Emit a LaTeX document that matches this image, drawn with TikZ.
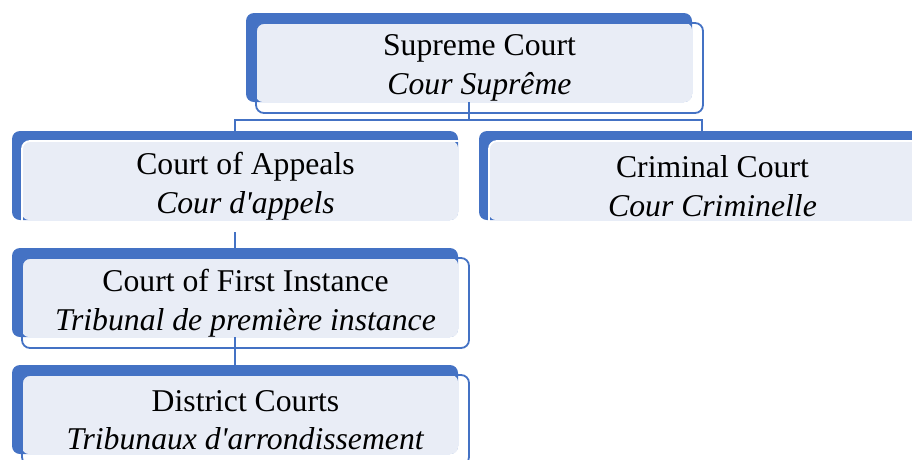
\documentclass[tikz,border=0pt]{standalone}
\usepackage{fontspec}
\setmainfont{Liberation Serif}
\usetikzlibrary{positioning}
\definecolor{courtblue}{HTML}{4472C4}
\definecolor{courtfill}{HTML}{E9EDF6}

\begin{document}
\begin{tikzpicture}[x=1pt, y=-1pt,
    back/.style={rectangle, fill=courtblue, rounded corners=8pt, inner sep=0pt, outer sep=0pt, minimum width=446pt, minimum height=89pt, anchor=north west},
    front/.style={rectangle, rounded corners=8pt, line width=1.8pt, inner sep=0pt, outer sep=0pt, minimum width=447pt, minimum height=90pt, align=center, font=\fontsize{31.7}{38.5}\selectfont},
    link/.style={draw=courtblue, line width=1.6pt}
    ]
    \useasboundingbox (0,0) rectangle (912,459);
    \clip (0,0) rectangle (912,459);
    
    \def\courts{supreme/246/13/courtblue/Supreme Court/Cour Suprême,%
        appeals/12/131/white/Court of Appeals/Cour d\textquotesingle appels,%
        criminal/479/131/white/Criminal Court/Cour Criminelle,%
        first/12/248/courtblue/Court of First Instance/Tribunal de première instance,%
        district/12/365/courtblue/District Courts/Tribunaux d\textquotesingle arrondissement}
    
    % one plate per court: blue back, pale face, framed front with the two names
    \foreach \court/\px/\py/\rim/\eng/\fre in \courts {
        \node[back] (\court-back) at (\px,\py) {};
        \fill[courtfill, rounded corners=7pt]
        ([shift={(10pt,-10pt)}]\court-back.north west) rectangle (\court-back.south east);
        \node[front, draw=\rim, below right=10pt and 10pt of \court-back.north west] (\court) {\eng\\\textit{\fre}};
    }
    
    % tree lines
    \draw[link] (supreme-back.south) -- ++(0,18) coordinate (bus) -| (appeals-back.north);
    \draw[link] (bus) -| (criminal-back.north);
    \draw[link] (first-back.north) -- ++(0,-16);
    \draw[link] (first-back.south) -- (district-back.north);
    
\end{tikzpicture}
\end{document}
